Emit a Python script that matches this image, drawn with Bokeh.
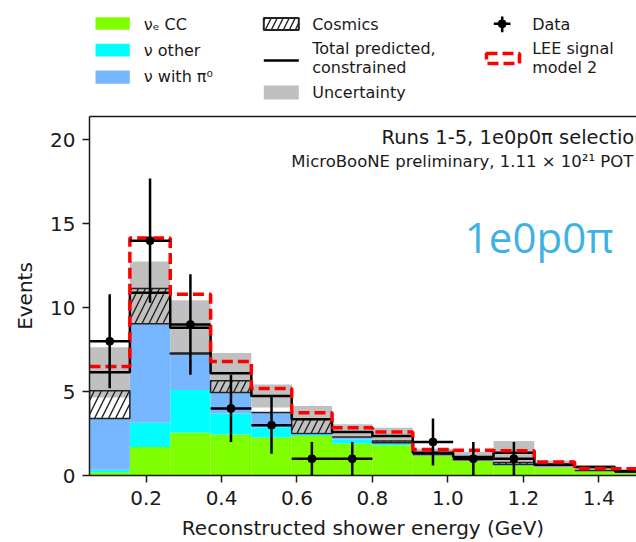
import numpy as np
from bokeh.plotting import figure
from bokeh.models import ColumnDataSource, Range1d, FixedTicker, LinearAxis
from bokeh.layouts import column
from bokeh.embed import file_html
from bokeh.resources import INLINE
from bokeh.core.properties import value

# ---------------- data ----------------
bin_edges = [0.05, 0.157, 0.264, 0.371, 0.479, 0.586, 0.693, 0.800,
             0.907, 1.014, 1.121, 1.229, 1.336, 1.443, 1.55]
nue_cc = [0.20, 1.70, 2.55, 2.45, 2.27, 2.35, 1.90, 1.80, 1.20, 0.90, 0.60, 0.58, 0.30, 0.20]
nu_other = [0.15, 1.45, 2.55, 1.25, 0.60, 0.10, 0.25, 0.10, 0.03, 0.02, 0.02, 0.01, 0.00, 0.00]
nu_pi0 = [3.05, 5.90, 2.15, 1.25, 0.89, 0.05, 0.15, 0.05, 0.02, 0.02, 0.03, 0.01, 0.00, 0.00]
cosmics = [1.65, 2.10, 0.05, 0.70, 0.00, 0.86, 0.00, 0.10, 0.00, 0.01, 0.12, 0.00, 0.00, 0.00]
total_constrained = [6.15, 10.9, 8.8, 6.1, 4.74, 3.36, 2.6, 2.35, 1.35, 1.1, 1.35, 0.65, 0.5, 0.25]
unc_low = [4.65, 9.05, 7.2, 4.9, 4.05, 2.55, 2.25, 2.0, 1.15, 0.85, 0.7, 0.45, 0.35, 0.15]
unc_high = [7.65, 12.75, 10.45, 7.3, 5.43, 4.15, 3.05, 2.85, 1.6, 1.4, 2.05, 0.9, 0.62, 0.4]
lee_model2 = [6.5, 14.15, 10.8, 6.8, 5.18, 3.74, 2.85, 2.6, 1.55, 1.5, 1.48, 0.8, 0.42, 0.4]
data_counts = [8, 14, 9, 4, 3, 1, 1, 0, 2, 1, 1, 0, 0, 0]
data_err = [2.8, 3.7, 3.0, 2.0, 1.7, 1.0, 1.0, 0.0, 1.4, 1.0, 1.0, 0.0, 0.0, 0.0]

x_ticks = [0.2, 0.4, 0.6, 0.8, 1.0, 1.2, 1.4]
x_tick_labels = ["0.2", "0.4", "0.6", "0.8", "1.0", "1.2", "1.4"]
y_ticks = [0, 5, 10, 15, 20]

# colours
C_NUE = "#80ff00"
C_OTHER = "#00ffff"
C_PI0 = "#76b7ff"
C_UNC = "#c0c0c0"
C_LEE = "#ff0000"
FONT = "DejaVu Sans"

# ---------------- derived stacks ----------------
edges = np.array(bin_edges)
left, right = edges[:-1], edges[1:]
centers = 0.5 * (left + right)
s0 = np.array(nue_cc)
s1 = s0 + np.array(nu_other)
s2 = s1 + np.array(nu_pi0)
s3 = s2 + np.array(cosmics)

src = ColumnDataSource(dict(left=left, right=right, s0=s0, s1=s1, s2=s2, s3=s3,
                            zero=np.zeros_like(s0), ulo=unc_low, uhi=unc_high))

# ---------------- main figure ----------------
p = figure(width=636, height=434, x_range=Range1d(0.05, 1.5), y_range=Range1d(0, 21.4),
           output_backend="svg", toolbar_location=None,
           min_border_left=89, min_border_right=0, min_border_top=8, min_border_bottom=65)
p.xgrid.visible = False
p.ygrid.visible = False
p.outline_line_color = None

p.quad(left="left", right="right", bottom="zero", top="s0", source=src,
       fill_color=C_NUE, line_color=None)
p.quad(left="left", right="right", bottom="s0", top="s1", source=src,
       fill_color=C_OTHER, line_color=None)
p.quad(left="left", right="right", bottom="s1", top="s2", source=src,
       fill_color=C_PI0, line_color=None)
p.quad(left="left", right="right", bottom="s2", top="s3", source=src,
       fill_color="white", line_color=None)
p.quad(left="left", right="right", bottom="ulo", top="uhi", source=src,
       fill_color=C_UNC, line_color=None)
p.quad(left="left", right="right", bottom="s2", top="s3", source=src,
       fill_alpha=0, hatch_pattern="/", hatch_color="#222222", hatch_scale=14,
       hatch_weight=1.4, line_color="#222222", line_width=1.5)

step_x = list(bin_edges)
p.step(x=step_x, y=list(total_constrained) + [total_constrained[-1]], mode="after",
       line_color="black", line_width=2.5)
p.step(x=step_x, y=list(lee_model2) + [lee_model2[-1]], mode="after",
       line_color=C_LEE, line_width=3.5, line_dash="11 5")

mask = np.array(data_counts) > 0
dc = np.array(data_counts, dtype=float)[mask]
de = np.array(data_err)[mask]
dx = centers[mask]
dl = left[mask]
dr = right[mask]
p.segment(x0=dx, y0=dc - de, x1=dx, y1=dc + de, line_color="black", line_width=2.5)
p.segment(x0=dl, y0=dc, x1=dr, y1=dc, line_color="black", line_width=2.5)
p.scatter(x=dx, y=dc, size=8, marker="circle", fill_color="black", line_color="black")

# annotations
p.text(x=[0.824], y=[20.15], text=["Runs 1-5, 1e0p0π selection"], text_font=value(FONT),
       text_font_size="19.5px", text_baseline="alphabetic", text_align="left", text_color="#1a1a1a")
p.text(x=[0.585], y=[18.7], text=["MicroBooNE preliminary, 1.11 × 10²¹ POT"], text_font=value(FONT),
       text_font_size="16.5px", text_baseline="alphabetic", text_align="left", text_color="#1a1a1a")
p.text(x=[1.045], y=[14.25], text=["1e0p0π"], text_font=value("Open Sans"),
       text_font_size="42px", text_baseline="alphabetic", text_align="left", text_color="#3fb2e4")

# axes
xa = p.below[0]
xa.ticker = FixedTicker(ticks=x_ticks)
xa.major_label_overrides = {t: l for t, l in zip(x_ticks, x_tick_labels)}
xa.axis_label = "Reconstructed shower energy (GeV)"
ya = p.left[0]
ya.ticker = FixedTicker(ticks=y_ticks)
ya.axis_label = "Events"
for ax in (xa, ya):
    ax.axis_line_width = 1.5
    ax.axis_line_color = "#1a1a1a"
    ax.major_tick_line_width = 1.5
    ax.major_tick_line_color = "#1a1a1a"
    ax.major_tick_in = 0
    ax.major_tick_out = 7
    ax.minor_tick_line_color = None
    ax.major_label_text_font = FONT
    ax.major_label_text_font_size = "20px"
    ax.major_label_text_color = "#1a1a1a"
    ax.axis_label_text_font = FONT
    ax.axis_label_text_font_size = "20px"
    ax.axis_label_text_font_style = "normal"
    ax.axis_label_text_color = "#1a1a1a"
xa.major_label_standoff = 8
xa.axis_label_standoff = 8
ya.major_label_standoff = 7
ya.axis_label_standoff = 10

top = LinearAxis(ticker=FixedTicker(ticks=[]), axis_line_width=1.5, axis_line_color="#1a1a1a",
                 major_tick_line_color=None, minor_tick_line_color=None,
                 major_label_text_color=None)
p.add_layout(top, "above")

# ---------------- legend figure (page pixel coordinates) ----------------
# frame is aligned with the main plot frame (left border 89 px)
leg = figure(width=636, height=108, x_range=Range1d(89, 636), y_range=Range1d(108, 0),
             output_backend="svg", toolbar_location=None,
             min_border_left=89, min_border_right=0, min_border_top=0, min_border_bottom=0,
             x_axis_type=None, y_axis_type=None)
leg.outline_line_color = None
leg.grid.visible = False

sw_l1, sw_r1 = 95, 129.3
sw_l2, sw_r2 = 263.3, 298.3
leg.quad(left=[sw_l1], right=[sw_r1], top=[16.7], bottom=[29.3], fill_color=C_NUE, line_color=None)
leg.quad(left=[sw_l1], right=[sw_r1], top=[43.3], bottom=[56], fill_color=C_OTHER, line_color=None)
leg.quad(left=[sw_l1], right=[sw_r1], top=[70], bottom=[83.3], fill_color=C_PI0, line_color=None)
leg.quad(left=[sw_l2], right=[sw_r2], top=[17.5], bottom=[29.5], fill_color="white",
         hatch_pattern="/", hatch_color="#222222", hatch_scale=12, hatch_weight=1.4,
         line_color="#222222", line_width=2)
leg.segment(x0=[sw_l2], y0=[60], x1=[sw_r2], y1=[60], line_color="black", line_width=2.5)
leg.quad(left=[sw_l2], right=[sw_r2], top=[85], bottom=[99], fill_color=C_UNC, line_color=None)
leg.segment(x0=[493.3, 501.7], y0=[23.3, 16], x1=[510, 501.7], y1=[23.3, 31.7],
            line_color="black", line_width=2.5)
leg.scatter(x=[501.7], y=[23.3], size=8, marker="circle", fill_color="black", line_color="black")
leg.quad(left=[486], right=[519], top=[53], bottom=[63], fill_alpha=0,
         line_color=C_LEE, line_width=3.5, line_dash="11 5")

lab_x = [143.3, 143.3, 143.3, 311.7, 311.7, 311.7, 311.7, 531.7, 531.7, 531.7]
lab_y = [23.5, 49.5, 76, 23.5, 47.5, 67, 91.5, 23.5, 47.5, 67]
lab_t = ["νₑ CC", "ν other", "ν with π⁰", "Cosmics", "Total predicted,", "constrained",
         "Uncertainty", "Data", "LEE signal", "model 2"]
leg.text(x=lab_x, y=lab_y, text=lab_t, text_font=value(FONT), text_font_size="16px",
         text_baseline="alphabetic", text_align="left", text_color="#1a1a1a")

layout = column(leg, p)
open("out.html", "w").write(file_html(layout, INLINE))
